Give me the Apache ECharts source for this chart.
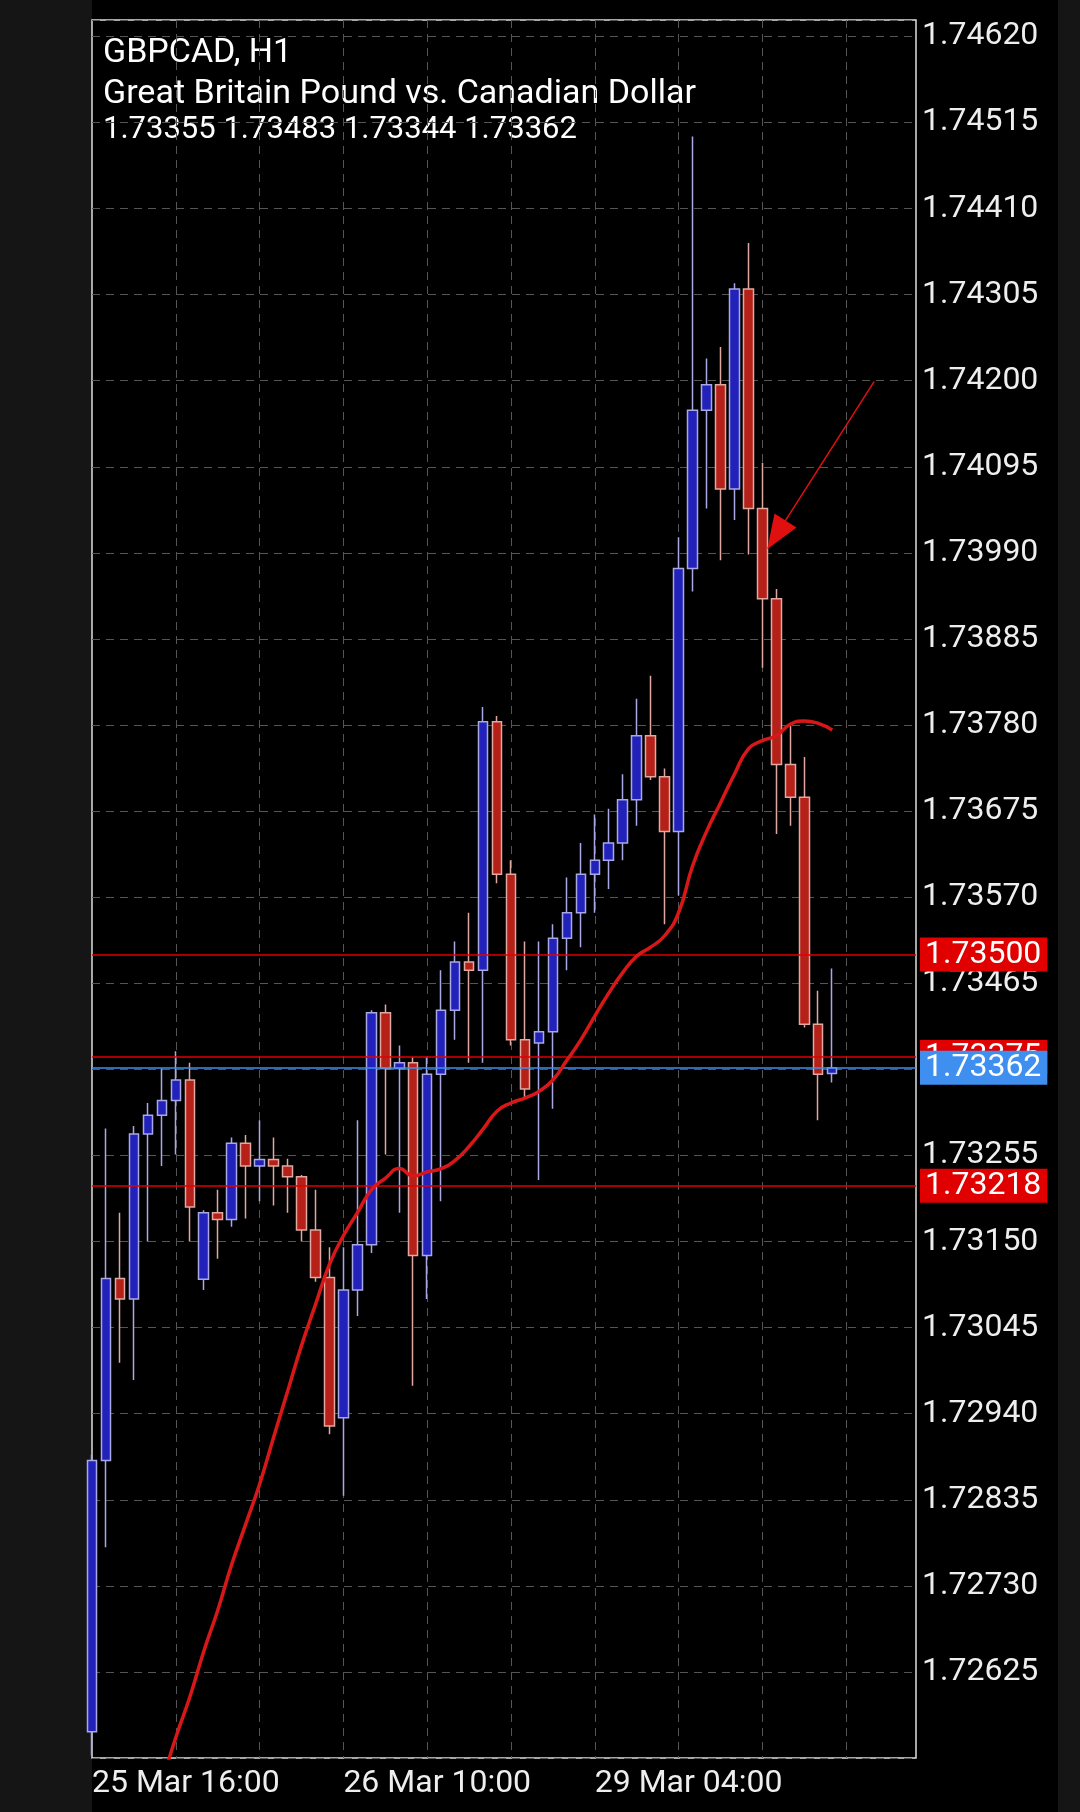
<!DOCTYPE html>
<html><head><meta charset="utf-8">
<script src="https://cdn.jsdelivr.net/npm/echarts@6/dist/echarts.min.js"></script>
<style>html,body{margin:0;padding:0;background:#000;}#c{width:1080px;height:1812px;}</style>
</head><body><div id="c"></div>
<script>
const categories = [];
const xLabels = {0:'25 Mar 16:00', 18:'26 Mar 10:00', 36:'29 Mar 04:00'};
for (let i = 0; i < 60; i++) categories.push(xLabels[i] || ('b' + i));

const opens  = [1.72552,1.72883,1.73105,1.73080,1.73281,1.73304,1.73322,1.73347,1.73104,1.73185,1.73177,1.73270,1.73242,1.73250,1.73242,1.73229,1.73164,1.73106,1.72935,1.73091,1.73146,1.73429,1.73361,1.73368,1.73133,1.73354,1.73432,1.73491,1.73481,1.73784,1.73598,1.73396,1.73392,1.73406,1.73520,1.73551,1.73598,1.73615,1.73636,1.73689,1.73767,1.73717,1.73650,1.73971,1.74164,1.74195,1.74068,1.74312,1.74044,1.73934,1.73732,1.73692,1.73415,1.73355];
const closes = [1.72883,1.73105,1.73080,1.73281,1.73304,1.73322,1.73347,1.73192,1.73185,1.73177,1.73270,1.73242,1.73250,1.73242,1.73229,1.73164,1.73106,1.72925,1.73091,1.73146,1.73429,1.73361,1.73368,1.73133,1.73354,1.73432,1.73491,1.73481,1.73784,1.73598,1.73396,1.73336,1.73406,1.73520,1.73551,1.73598,1.73615,1.73636,1.73689,1.73767,1.73717,1.73650,1.73971,1.74164,1.74195,1.74068,1.74312,1.74044,1.73934,1.73732,1.73692,1.73415,1.73354,1.73362];
const lows   = [1.72523,1.72777,1.73002,1.72981,1.73150,1.73242,1.73256,1.73150,1.73091,1.73129,1.73168,1.73178,1.73199,1.73194,1.73185,1.73150,1.73101,1.72915,1.72840,1.73059,1.73136,1.73256,1.73185,1.72974,1.73080,1.73199,1.73396,1.73368,1.73368,1.73587,1.73389,1.73326,1.73225,1.73312,1.73481,1.73509,1.73551,1.73580,1.73615,1.73657,1.73713,1.73537,1.73572,1.73943,1.74044,1.73981,1.74030,1.73988,1.73850,1.73647,1.73657,1.73411,1.73298,1.73344];
const highs  = [1.72890,1.73288,1.73185,1.73291,1.73319,1.73361,1.73382,1.73368,1.73188,1.73213,1.73277,1.73280,1.73298,1.73277,1.73251,1.73231,1.73213,1.73143,1.73143,1.73298,1.73432,1.73439,1.73389,1.73375,1.73375,1.73481,1.73516,1.73551,1.73802,1.73791,1.73615,1.73516,1.73516,1.73537,1.73594,1.73636,1.73671,1.73678,1.73720,1.73812,1.73840,1.73727,1.74009,1.74498,1.74227,1.74241,1.74319,1.74368,1.74100,1.73946,1.73779,1.73741,1.73456,1.73483];
const maValues = [null,null,null,null,null,1.72490,1.72545,1.72594,1.72650,1.72700,1.72756,1.72805,1.72854,1.72911,1.72967,1.73023,1.73073,1.73122,1.73157,1.73185,1.73213,1.73227,1.73239,1.73230,1.73235,1.73239,1.73249,1.73266,1.73287,1.73309,1.73319,1.73325,1.73333,1.73347,1.73371,1.73396,1.73425,1.73453,1.73478,1.73498,1.73509,1.73523,1.73551,1.73608,1.73650,1.73685,1.73720,1.73751,1.73761,1.73767,1.73781,1.73785,1.73782,1.73774];
const redLevels = [1.73500, 1.73218, 1.73375];
const bidLevel = 1.73362;
const arrowFrom = [56, 1.74199], arrowTo = [49, 1.74012];
const header = ['GBPCAD, H1', 'Great Britain Pound vs. Canadian Dollar', '1.73355 1.73483 1.73344 1.73362'];

const candles = opens.map((o, i) => [o, closes[i], lows[i], highs[i]]);
const FONT = 'Roboto';
const lastIdx = categories.length - 1;
function tag(v, bg) {
  return [
    { coord: [0, v], lineStyle: { color: bg, width: 1.5, type: 'solid' },
      label: { show: true, position: 'end', formatter: v.toFixed(5), color: '#fff', backgroundColor: bg,
        fontFamily: FONT, fontSize: 32, padding: [2, 6, 0, 5], distance: 4 } },
    { coord: [lastIdx, v] }
  ];
}
const chart = echarts.init(document.getElementById('c'));
chart.setOption({
  backgroundColor: '#000',
  animation: false,
  graphic: [
    { type: 'rect', left: 0, top: 0, shape: { width: 92, height: 1812 }, style: { fill: '#151515' }, z: -10 },
    { type: 'rect', left: 1058, top: 0, shape: { width: 22, height: 1812 }, style: { fill: '#151515' }, z: -10 },
    { type: 'text', left: 103, top: 36, style: { text: header[0], fill: '#fff', font: '34px Roboto' } },
    { type: 'text', left: 103, top: 77, style: { text: header[1], fill: '#fff', font: '34px Roboto' } },
    { type: 'text', left: 103, top: 115, style: { text: header[2], fill: '#fff', font: '31px Roboto' } }
  ],
  grid: { left: 92, right: 164, top: 20, bottom: 54, show: true, borderColor: '#ddd', borderWidth: 1.5, backgroundColor: 'transparent' },
  xAxis: {
    type: 'category', data: categories, boundaryGap: false,
    axisLine: { show: false }, axisTick: { show: false },
    axisLabel: { interval: (i) => i % 18 === 0 && i <= 36, formatter: (v) => (v.startsWith('b') ? '' : v),
      color: '#eee', fontFamily: FONT, fontSize: 32, align: 'left', margin: 10 },
    splitLine: { show: true, interval: (i) => i % 6 === 0 && i > 0 && i < 59, lineStyle: { color: '#555', type: [8, 6], width: 1 } }
  },
  yAxis: {
    type: 'value', position: 'right', min: 1.72520, max: 1.74640, interval: 0.00105,
    axisLine: { show: false }, axisTick: { show: false },
    axisLabel: { showMinLabel: false, showMaxLabel: false, formatter: (v) => v.toFixed(5), color: '#eee', fontFamily: FONT, fontSize: 32, margin: 6 },
    splitLine: { show: true, lineStyle: { color: '#555', type: [8, 6], width: 1 } }
  },
  series: [
    { type: 'candlestick', data: candles, barWidth: 10, clip: true,
      itemStyle: { color: '#2222bb', color0: '#b52018', borderColor: '#a8a8e6', borderColor0: '#e0a8a0', borderWidth: 1.5 } },
    { type: 'line', data: maValues, showSymbol: false, smooth: true, connectNulls: false, clip: true,
      lineStyle: { color: '#d81818', width: 3.5 }, z: 5,
      markLine: { silent: true, symbol: 'none', animation: false,
        data: [tag(redLevels[0], '#e00000'), tag(redLevels[1], '#e00000'), tag(redLevels[2], '#e00000'), tag(bidLevel, '#3f8ff0'),
          [{ coord: arrowFrom, symbol: 'none', lineStyle: { color: '#e01010', width: 1.5, type: 'solid' }, label: { show: false } },
           { coord: arrowTo, symbol: 'triangle', symbolSize: [26, 34] }]] } }
  ]
});
</script></body></html>
